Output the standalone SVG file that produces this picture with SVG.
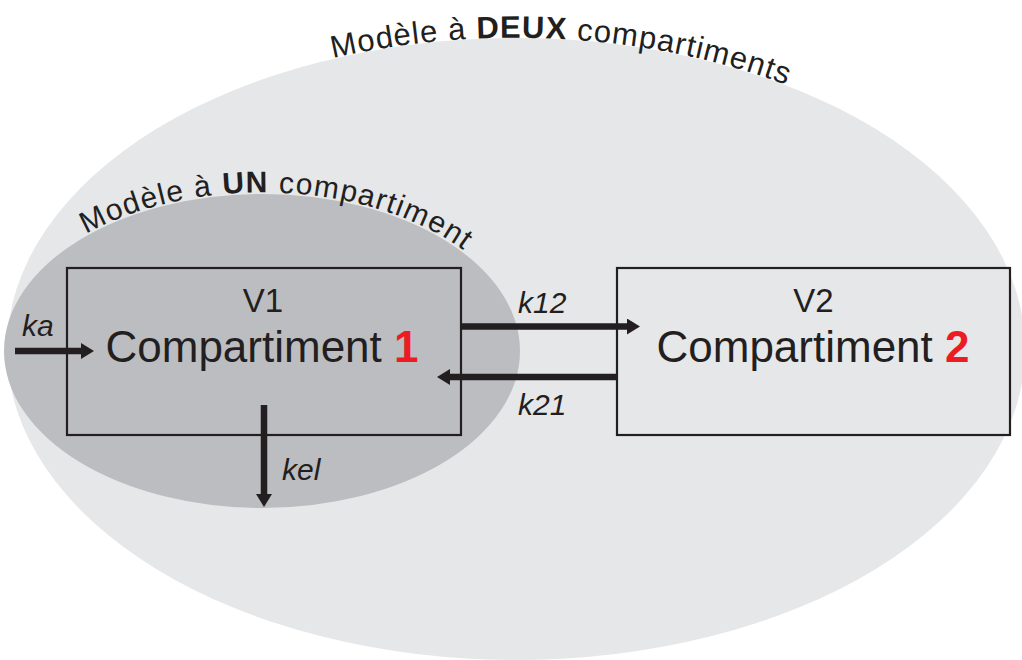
<svg xmlns="http://www.w3.org/2000/svg" width="1022" height="660" viewBox="0 0 1022 660">
<style>
.t{font-family:"Liberation Sans",Arial,sans-serif;fill:#231f20}
.k{font-style:italic;font-size:30px}
.box{stroke:#231f20;stroke-width:2.2}
.arr{stroke:#231f20;stroke-width:6.5;fill:none;marker-end:url(#ah)}
.red{fill:#ed1c24;font-weight:bold}
</style>
<defs>
<marker id="ah" markerUnits="userSpaceOnUse" markerWidth="14" markerHeight="17" refX="0" refY="8" orient="auto">
<path d="M0,0 L13,8 L0,16 Z" fill="#231f20"/>
</marker>
<path id="arcDeux" d="M333,58 A514,313 0 0 1 1029,350"/>
<path id="arcUn" d="M86,234 A261,159 0 0 1 523,351"/>
</defs>
<rect width="1022" height="660" fill="#ffffff"/>
<g id="model2">
<ellipse cx="516" cy="349" rx="509" ry="311" fill="#e6e7e8"/>
<text class="t" font-size="31" letter-spacing="1"><textPath href="#arcDeux">Modèle à <tspan font-weight="bold">DEUX</tspan> compartiments</textPath></text>
</g>
<g id="model1">
<ellipse cx="262" cy="351" rx="258" ry="157" fill="#bcbdc0"/>
<text class="t" font-size="30" letter-spacing="1.3"><textPath href="#arcUn">Modèle à <tspan font-weight="bold">UN</tspan> compartiment</textPath></text>
</g>
<g id="comp1">
<rect class="box" x="67" y="268" width="394" height="167" fill="none"/>
<text class="t" x="263" y="311.5" font-size="33" text-anchor="middle">V1</text>
<text class="t" x="262" y="362" font-size="44" text-anchor="middle">Compartiment <tspan class="red">1</tspan></text>
</g>
<g id="comp2">
<rect class="box" x="617" y="268" width="393" height="167" fill="#e6e7e8"/>
<text class="t" x="813.5" y="311.5" font-size="33" text-anchor="middle">V2</text>
<text class="t" x="813" y="362" font-size="44" text-anchor="middle">Compartiment <tspan class="red">2</tspan></text>
</g>
<g id="connectors">
<path class="arr" d="M15,351 H81"/>
<path class="arr" d="M461,326.5 H627"/>
<path class="arr" d="M617,377 H450"/>
<path class="arr" d="M264,405 V494"/>
</g>
<g id="labels">
<text class="t k" x="22" y="336">ka</text>
<text class="t k" x="518" y="313">k12</text>
<text class="t k" x="518" y="415">k21</text>
<text class="t k" x="282" y="480">kel</text>
</g>
</svg>
